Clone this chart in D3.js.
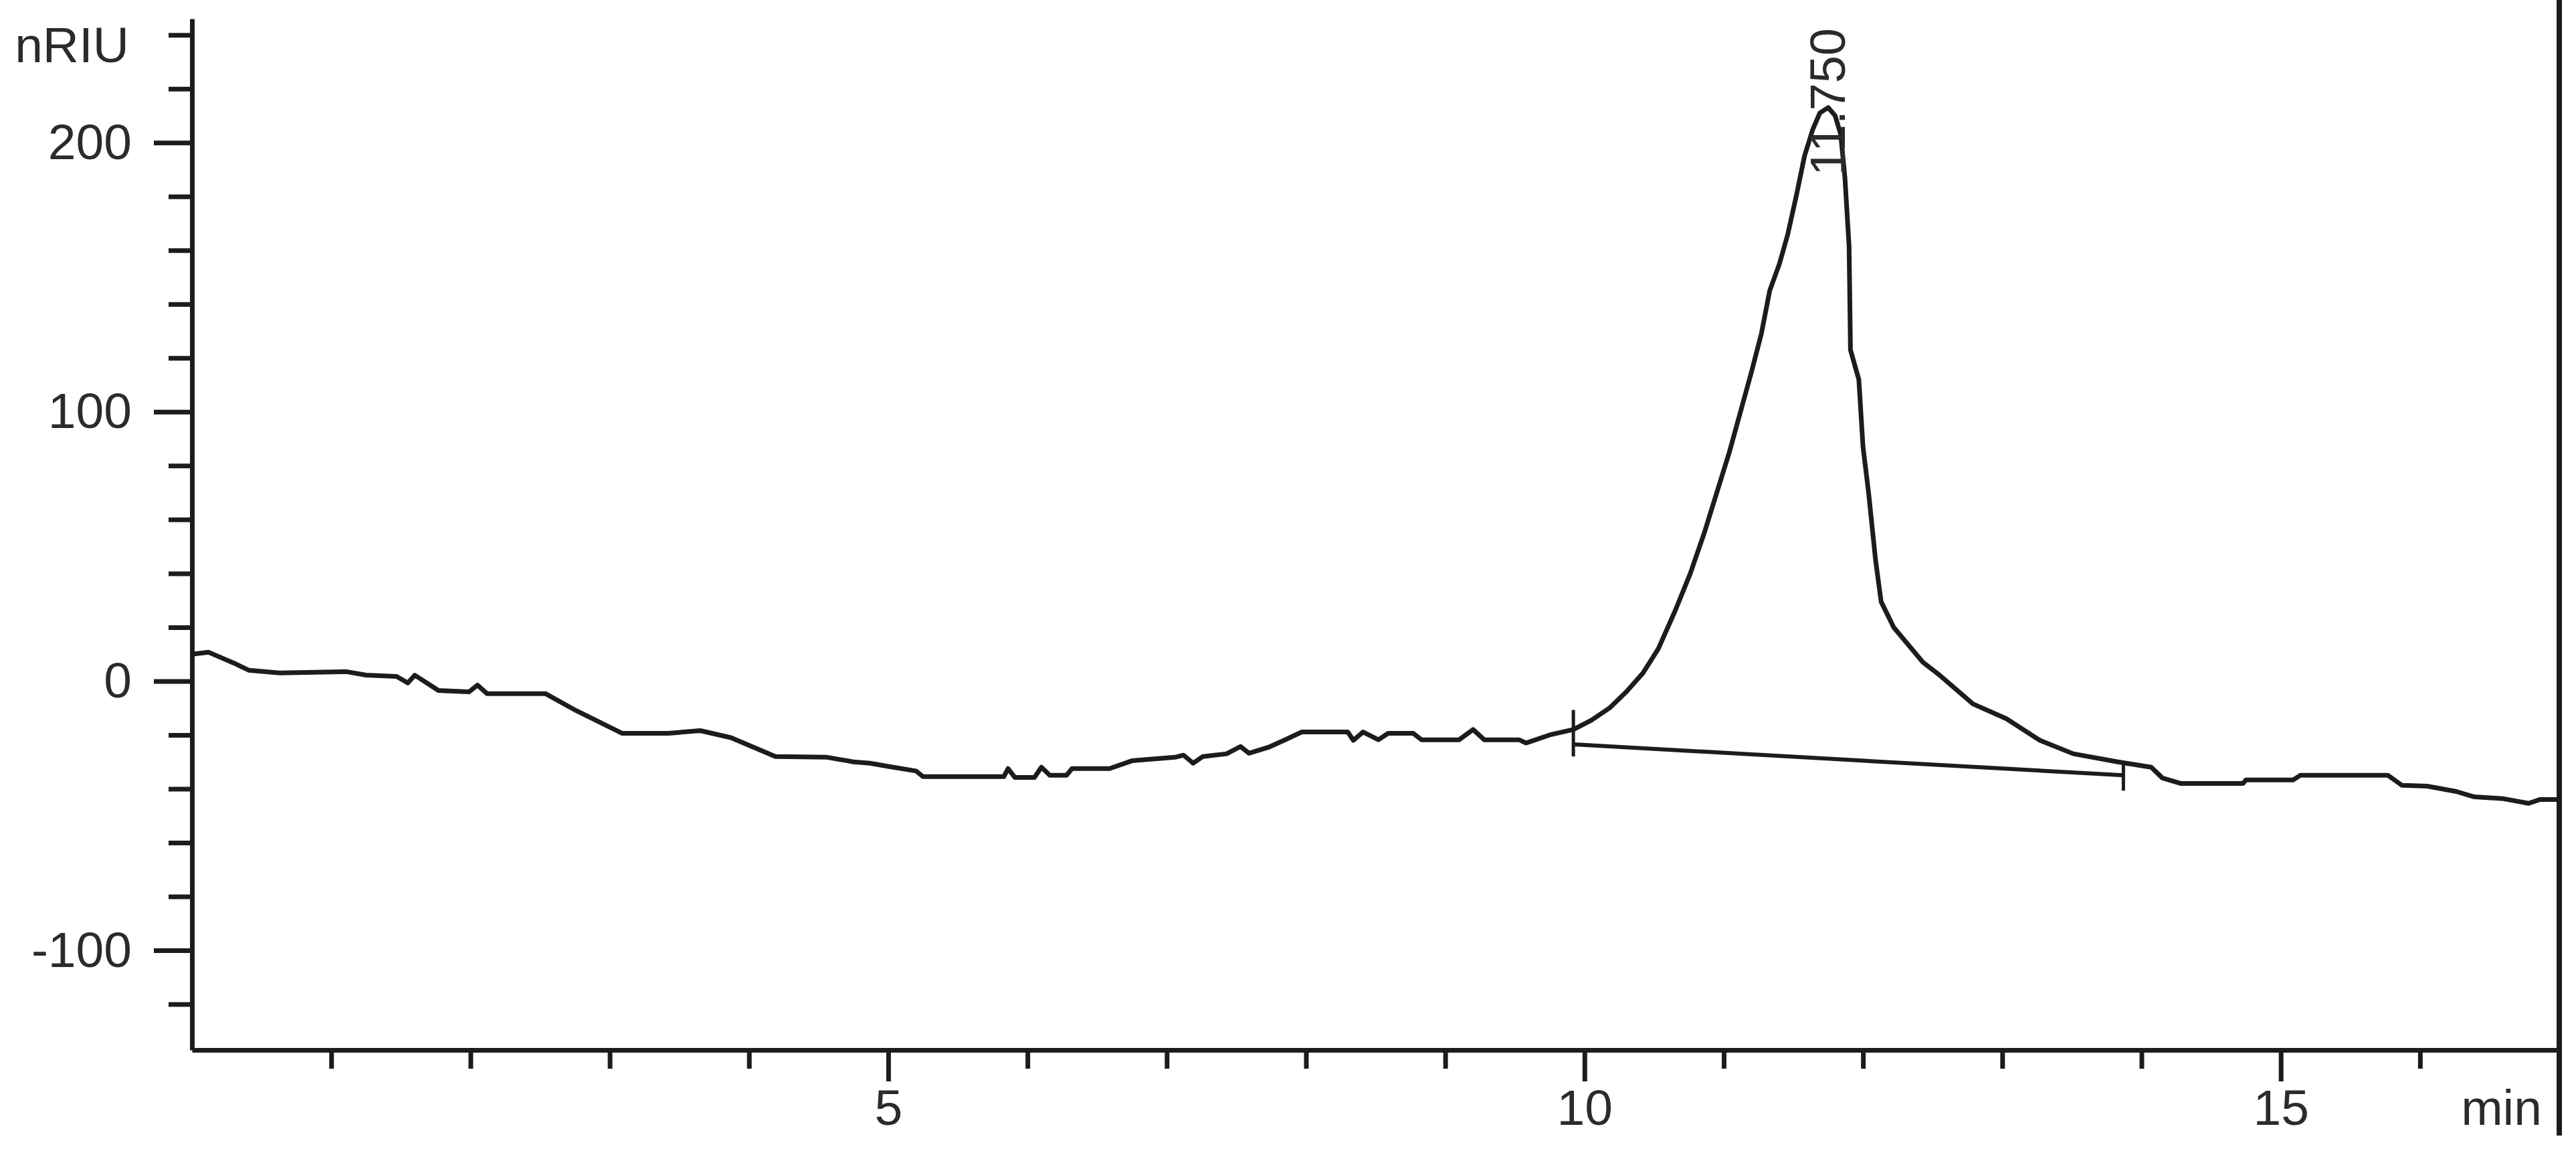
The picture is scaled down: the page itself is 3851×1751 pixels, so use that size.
<!DOCTYPE html>
<html>
<head>
<meta charset="utf-8">
<script src="https://cdn.jsdelivr.net/npm/d3@7"></script>
<style>
  html, body { margin: 0; padding: 0; background: #ffffff; }
  svg { display: block; }
  text { font-family: "Liberation Sans", Arial, sans-serif; fill: #2b2b2b; }
</style>
</head>
<body>
<script>
// ---------------- data ----------------
const times = [0.00, 0.12, 0.30, 0.41, 0.63, 1.11, 1.25, 1.47, 1.55, 1.60, 1.77, 1.99, 2.05, 2.12, 2.54, 2.76,
  3.09, 3.42, 3.65, 3.87, 4.19, 4.56, 4.75, 4.87, 5.00, 5.20, 5.25, 5.83, 5.86, 5.91, 6.05, 6.10, 6.16, 6.28,
  6.32, 6.59, 6.75, 7.06, 7.12, 7.19, 7.26, 7.43, 7.53, 7.59, 7.73, 7.85, 7.97, 8.30, 8.34, 8.41, 8.52, 8.59,
  8.77, 8.83, 9.10, 9.20, 9.28, 9.53, 9.58, 9.75, 9.92, 10.05, 10.18, 10.30, 10.42, 10.53, 10.65, 10.76, 10.86,
  10.95, 11.04, 11.12, 11.20, 11.27, 11.33, 11.40, 11.46, 11.52, 11.58, 11.64, 11.69, 11.75, 11.80, 11.84, 11.87,
  11.90, 11.91, 11.97, 12.00, 12.04, 12.09, 12.13, 12.22, 12.43, 12.55, 12.79, 13.03, 13.27, 13.51, 13.83, 14.07,
  14.15, 14.28, 14.73, 14.75, 15.09, 15.14, 15.77, 15.87, 16.05, 16.26, 16.39, 16.60, 16.78, 16.86, 17.00];
const signal = [10, 10.7, 6.7, 4, 3, 3.5, 2.2, 1.7, -0.7, 2.2, -3.5, -4, -1.5, -4.7, -4.7, -11,
  -19.4, -19.4, -18.4, -21, -28, -28.3, -30, -30.5, -31.7, -33.4, -35.5, -35.5, -32.5, -35.8, -35.8, -32, -35, -35,
  -32.5, -32.5, -29.6, -28.3, -27.5, -30.5, -28, -27, -24.3, -26.8, -24.6, -21.8, -18.9, -18.9, -22, -18.9, -21.8, -19.4,
  -19.4, -21.8, -21.8, -18, -21.8, -21.8, -23, -20, -18, -14.5, -10, -4, 3, 12, 26, 40, 55,
  70, 85, 100, 115, 129, 145, 155, 166, 180, 195, 205, 211, 213, 210, 203, 187,
  161.5, 123, 112, 87, 70, 45, 29.5, 20, 7, 2.2, -8.5, -14, -22, -27, -30, -32,
  -36, -38, -38, -36.7, -36.7, -35, -35, -38.7, -39, -41, -43, -43.7, -45.4, -44, -44];

const yTickValues = [-120, -100, -80, -60, -40, -20, 0, 20, 40, 60, 80, 100, 120, 140, 160, 180, 200, 220, 240];
const yLabelled = [-100, 0, 100, 200];
const xTickValues = [1, 2, 3, 4, 5, 6, 7, 8, 9, 10, 11, 12, 13, 14, 15, 16];
const xLabelled = [5, 10, 15];

const peakTime = [11.75];
const peakValue = [213];
const peakLabel = ["11.750"];
const baselineTimes = [9.92, 13.87];
const baselineValues = [-23.5, -35];
const markerTops = [-10.7, -30.8];
const markerBottoms = [-28, -40.7];

const yUnit = "nRIU";
const xUnit = "min";

// ---------------- layout ----------------
const W = 3851, H = 1751;
const padL = 287, padR = 3826, padT = 28, padB = 1570;
const ink = "#1c1c1c";
const fontSize = 75;
const fontFam = '"Liberation Sans", Arial, sans-serif';

const svg = d3.select("body").append("svg").attr("width", W).attr("height", H);

const x = d3.scaleLinear().domain([0, 17]).range([padL, padR]);
const y = d3.scaleLinear().domain([-137, 246]).range([padB, padT]);

// Y axis
const yAxis = svg.append("g").attr("transform", `translate(${padL},0)`)
  .call(d3.axisLeft(y).tickValues(yTickValues).tickSize(35).tickSizeOuter(0)
    .tickFormat(d => yLabelled.includes(d) ? String(d) : ""));
yAxis.select(".domain").attr("stroke", ink).attr("stroke-width", 7);
yAxis.selectAll(".tick line").attr("stroke", ink).attr("stroke-width", 7)
  .attr("x2", d => yLabelled.includes(d) ? -57 : -35);
yAxis.selectAll(".tick text").attr("x", -90).attr("dy", 0).attr("y", 24)
  .attr("text-anchor", "end").style("font-size", fontSize + "px")
  .style("font-family", fontFam).attr("fill", "#2b2b2b");

// X axis
const xAxis = svg.append("g").attr("transform", `translate(0,${padB})`)
  .call(d3.axisBottom(x).tickValues(xTickValues).tickSize(28).tickSizeOuter(0)
    .tickFormat(d => xLabelled.includes(d) ? String(d) : ""));
xAxis.select(".domain").attr("stroke", ink).attr("stroke-width", 7);
xAxis.selectAll(".tick line").attr("stroke", ink).attr("stroke-width", 7)
  .attr("y2", d => xLabelled.includes(d) ? 47 : 28);
xAxis.selectAll(".tick text").attr("y", 112).attr("dy", 0)
  .attr("text-anchor", "middle").style("font-size", fontSize + "px")
  .style("font-family", fontFam).attr("fill", "#2b2b2b");

// right frame line
svg.append("line").attr("x1", padR).attr("x2", padR).attr("y1", 0).attr("y2", 1698)
  .attr("stroke", ink).attr("stroke-width", 8);

// units
svg.append("text").attr("x", 193).attr("y", 93).attr("text-anchor", "end")
  .style("font-size", fontSize + "px").text(yUnit);
svg.append("text").attr("x", 3800).attr("y", 1682).attr("text-anchor", "end")
  .style("font-size", fontSize + "px").text(xUnit);

// signal trace
const pts = times.map((t, i) => [t, signal[i]]);
svg.append("path").datum(pts)
  .attr("fill", "none").attr("stroke", ink).attr("stroke-width", 7)
  .attr("stroke-linejoin", "round")
  .attr("d", d3.line().x(d => x(d[0])).y(d => y(d[1])));

// integration baseline
svg.append("line")
  .attr("x1", x(baselineTimes[0])).attr("y1", y(baselineValues[0]))
  .attr("x2", x(baselineTimes[1])).attr("y2", y(baselineValues[1]))
  .attr("stroke", ink).attr("stroke-width", 6);
baselineTimes.forEach((t, i) => {
  svg.append("line").attr("x1", x(t)).attr("x2", x(t))
    .attr("y1", y(markerTops[i])).attr("y2", y(markerBottoms[i]))
    .attr("stroke", ink).attr("stroke-width", 5);
});

// peak label
peakTime.forEach((t, i) => {
  svg.append("text")
    .attr("transform", `translate(${x(t) + 25},${y(peakValue[i]) + 102}) rotate(-90)`)
    .attr("text-anchor", "start")
    .style("font-size", "74px").text(peakLabel[i]);
});
</script>
</body>
</html>
